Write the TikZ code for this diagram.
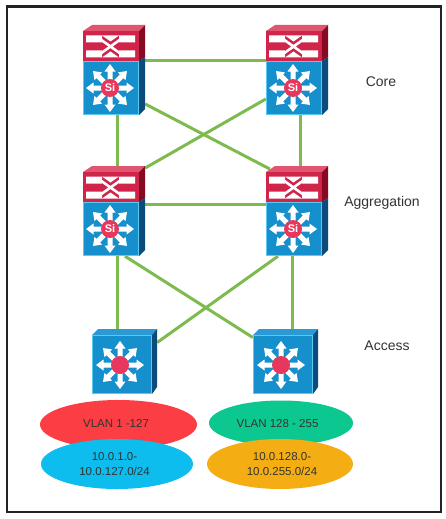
\documentclass[tikz,border=0pt]{standalone}
\usepackage{fontspec}
\setmainfont{Liberation Sans}
\definecolor{linkgreen}{HTML}{7DBB4E}
\definecolor{frame}{HTML}{222222}
\definecolor{redfront}{HTML}{D0244A}
\definecolor{redtop}{HTML}{E0556F}
\definecolor{redside}{HTML}{860B22}
\definecolor{bluefront}{HTML}{1590CC}
\definecolor{blueedge}{HTML}{5CC9F0}
\definecolor{bluetop}{HTML}{2A9AD6}
\definecolor{blueside}{HTML}{0B4C7C}
\definecolor{hubred}{HTML}{E8375C}
\definecolor{ered}{HTML}{FA3E44}
\definecolor{eblue}{HTML}{0CBDEE}
\definecolor{egreen}{HTML}{0CC78F}
\definecolor{eorange}{HTML}{F4AE14}
\definecolor{ink}{HTML}{333333}
\tikzset{
  x=1pt,y=-1pt,
  link/.style={draw=linkgreen,line width=3pt},
  vlan/.style={ellipse,inner sep=0pt,outer sep=0pt},
  lbl/.style={inner sep=0pt,text=ink,font=\fontsize{14}{16}\selectfont},
  etxt/.style={inner sep=0pt,text=ink,align=center,font=\fontsize{11.5}{15}\selectfont},
}
\usetikzlibrary{shapes.geometric,calc}
% eight white arrows round (0,0)
\newcommand{\starArrows}{%
  \foreach \a in {0,45,...,315}{
    \fill[white,rotate=\a] (0,-2.5) -- (16.5,-2.5) -- (16.5,-5.5) -- (24,0) -- (16.5,5.5) -- (16.5,2.5) -- (0,2.5) -- cycle;
  }}
\newcommand{\siDevice}[1]{% #1 = x,y of top-left
\begin{scope}[shift={(#1)}]
  % red module
  \fill[redtop] (0,6) -- (9,0) -- (62,0) -- (56,6) -- cycle;
  \fill[redside] (56,6) -- (62,0) -- (62,32) -- (56,36) -- cycle;
  \fill[redfront] (0,6) rectangle (56,36);
  \fill[white] (3,10.5) rectangle (19,17.5) (36,10.5) rectangle (52,17.5) (3,25.5) rectangle (19,32.5) (36,25.5) rectangle (52,32.5);
  \fill[white] (19,10.5) -- (36,10.5) -- (27.5,16.5) -- cycle;
  \fill[white] (19,32.5) -- (36,32.5) -- (27.5,26.5) -- cycle;
  \draw[white,line width=2.6pt] (17,14) -- (38,29) (17,29) -- (38,14);
  % blue module
  \fill[blueside] (56,36) -- (62,32) -- (62,84) -- (56,90) -- cycle;
  \draw[blueedge,line width=1pt,fill=bluefront] (0.5,36.5) rectangle (55.5,89.5);
  \begin{scope}[shift={(27,63)}]
    \starArrows
    \fill[hubred] (0,0) circle (9);
    \node[inner sep=0pt,text=white,font=\bfseries\fontsize{11}{11}\selectfont] at (0,0) {Si};
  \end{scope}
\end{scope}}
\newcommand{\hubDevice}[1]{% access switch
\begin{scope}[shift={(#1)}]
  \fill[bluetop] (0,6) -- (6,0) -- (65,0) -- (60,6) -- cycle;
  \fill[blueside] (60,6) -- (65,0) -- (65,58) -- (60,65) -- cycle;
  \draw[blueedge,line width=1pt,fill=bluefront] (0.5,6.5) rectangle (59.5,64.5);
  \begin{scope}[shift={(28,36)}]
    \starArrows
    \fill[hubred] (0,0) circle (9);
  \end{scope}
\end{scope}}
\begin{document}
\begin{tikzpicture}
\useasboundingbox (0,0) rectangle (445,519);
\fill[white] (0,0) rectangle (445,519);
\draw[frame,line width=2.2pt] (7,6.5) rectangle (441,512);
% anchor nodes for the devices
\node[inner sep=0pt,minimum width=62pt,minimum height=90pt] (cl) at (114,70) {};
\node[inner sep=0pt,minimum width=62pt,minimum height=90pt] (cr) at (297,70) {};
\node[inner sep=0pt,minimum width=62pt,minimum height=90pt] (al) at (114,211) {};
\node[inner sep=0pt,minimum width=62pt,minimum height=90pt] (ar) at (297,211) {};
\node[inner sep=0pt,minimum width=65pt,minimum height=65pt] (sl) at (124.5,361.5) {};
\node[inner sep=0pt,minimum width=65pt,minimum height=65pt] (sr) at (285.5,361.5) {};
% connectors
\draw[link] ([yshift=9pt]cl.east) -- ([yshift=9pt]cr.west);
\draw[link] ([xshift=3pt]cl.south) -- ([xshift=3pt]al.north);
\draw[link] ([xshift=3pt]cr.south) -- ([xshift=3pt]ar.north);
\draw[link] ([yshift=-34pt]cl.east) -- ([xshift=4pt,yshift=42pt]ar.west);
\draw[link] ([yshift=-29pt]cr.west) -- ([yshift=43pt]al.east);
\draw[link] ([yshift=7pt]al.east) -- ([yshift=7pt]ar.west);
\draw[link] ([xshift=3pt]al.south) -- ([xshift=-7.5pt]sl.north);
\draw[link] ([xshift=-5pt]ar.south) -- ([xshift=6.5pt]sr.north);
\draw[link] ([xshift=11pt]al.south) -- ([yshift=24pt]sr.west);
\draw[link] ([xshift=-19pt]ar.south) -- ([yshift=19pt]sl.east);
% devices
\siDevice{83,25}
\siDevice{266,25}
\siDevice{83,166}
\siDevice{266,166}
\hubDevice{92,329}
\hubDevice{253,329}
% VLAN ellipses
\node[vlan,fill=ered,minimum width=157pt,minimum height=49pt] (v1) at (118.5,424.5) {};
\node[vlan,fill=egreen,minimum width=144pt,minimum height=45pt] (v2) at (281,423) {};
\node[vlan,fill=eblue,minimum width=152pt,minimum height=50pt] (n1) at (117,464) {};
\node[vlan,fill=eorange,minimum width=146pt,minimum height=50pt] (n2) at (280,464) {};
\node[etxt] at (116,423.5) {VLAN 1 -127};
\node[etxt] at (277.5,423.5) {VLAN 128 - 255};
\node[etxt] at (114.5,464) {10.0.1.0-\\10.0.127.0/24};
\node[etxt] at (282,464) {10.0.128.0-\\10.0.255.0/24};
% tier labels
\node[lbl] (t1) at (381,82) {Core};
\node[lbl] (t2) at (382,203) {Aggregation};
\node[lbl] (t3) at (387,346) {Access};
\end{tikzpicture}
\end{document}
